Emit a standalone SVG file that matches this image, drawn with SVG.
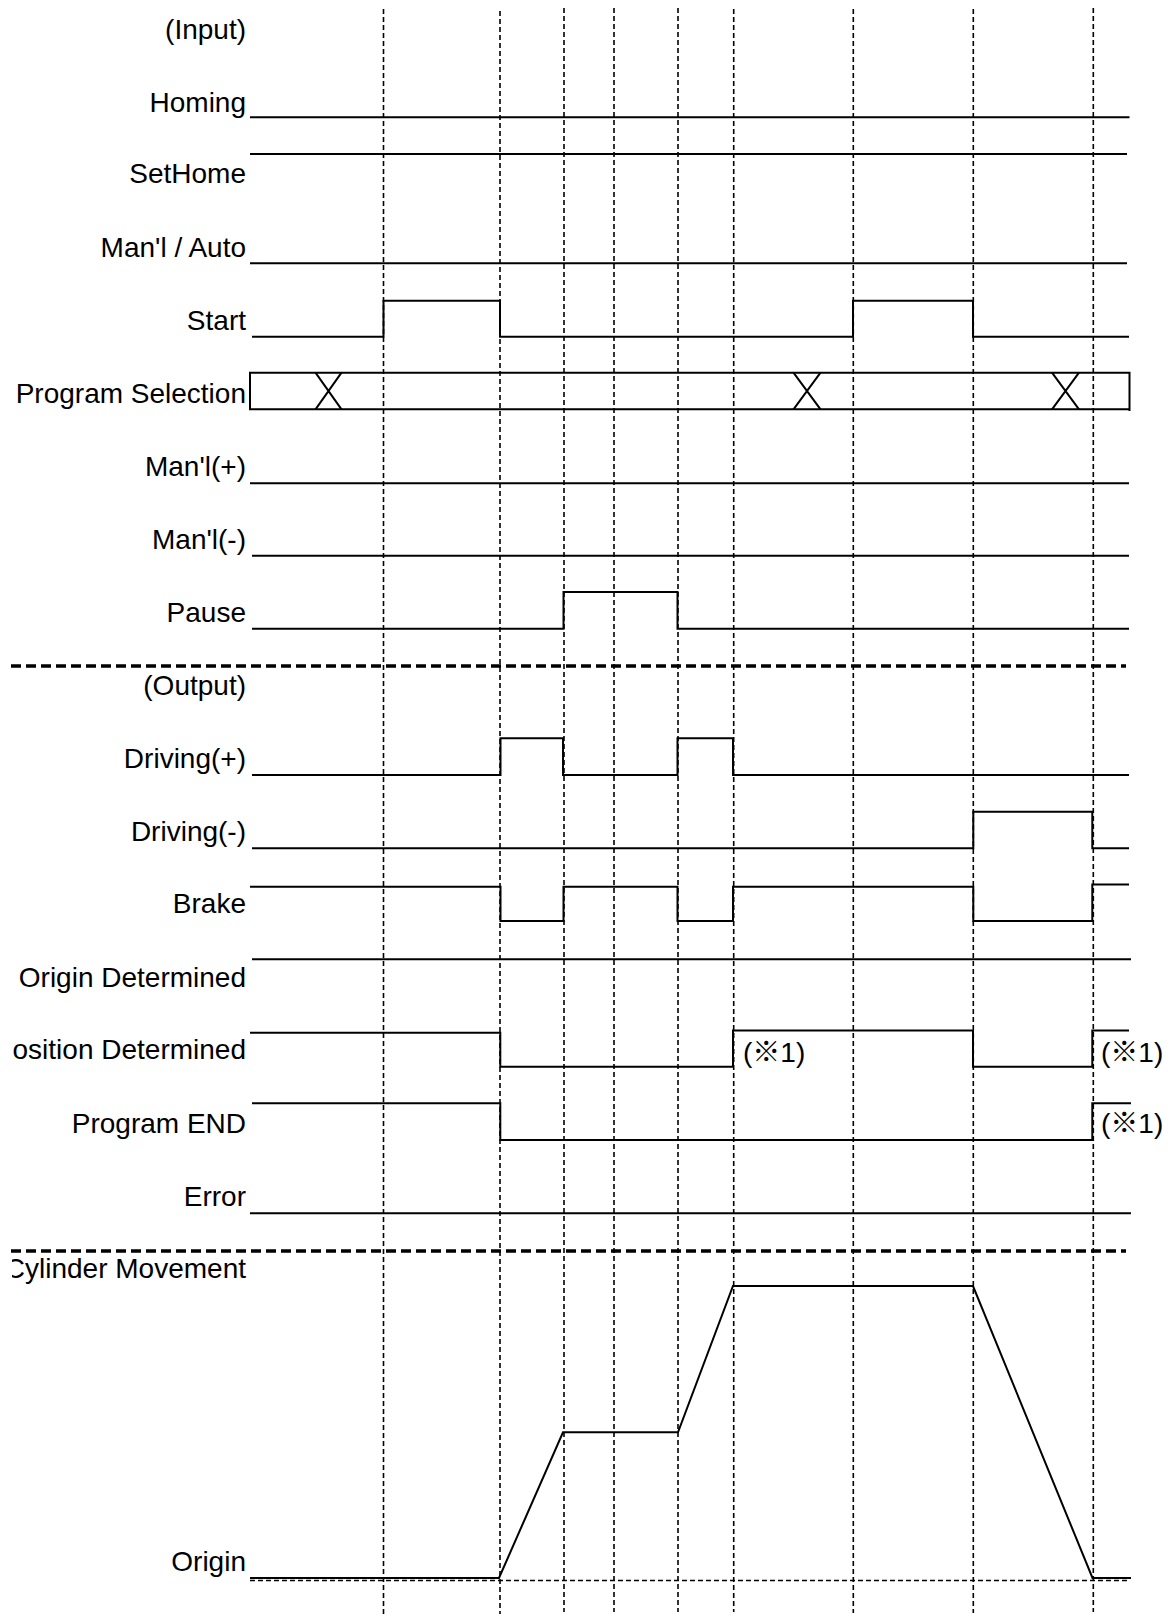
<svg xmlns="http://www.w3.org/2000/svg" width="1173" height="1616" viewBox="0 0 1173 1616">
<style>
.lbl{font-family:"Liberation Sans","Noto Sans CJK JP",sans-serif;font-size:28px;fill:#000;text-anchor:end}
.note{font-family:"Liberation Sans","Noto Sans CJK JP",sans-serif;font-size:28px;fill:#000}
.sig{fill:none;stroke:#000;stroke-width:2;stroke-linejoin:miter}
.tm{stroke:#000;stroke-width:1.6;stroke-dasharray:5 3}
.sep{stroke:#000;stroke-width:3.5;stroke-dasharray:10 5}
.odash{stroke:#000;stroke-width:1.6;stroke-dasharray:5 3}
</style>
<defs>
<clipPath id="lblclip"><rect x="12" y="0" width="240" height="1616"/></clipPath>
</defs>
<rect width="1173" height="1616" fill="#fff"/>

<g id="connectors">
<line class="tm" x1="383.5" y1="9" x2="383.5" y2="1614"/>
<line class="tm" x1="500" y1="11" x2="500" y2="1614"/>
<line class="tm" x1="564" y1="8" x2="564" y2="1612"/>
<line class="tm" x1="614" y1="8" x2="614" y2="1612"/>
<line class="tm" x1="678" y1="8" x2="678" y2="1612"/>
<line class="tm" x1="733.7" y1="9" x2="733.7" y2="1612"/>
<line class="tm" x1="853.3" y1="9" x2="853.3" y2="1613"/>
<line class="tm" x1="973.3" y1="9" x2="973.3" y2="1613"/>
<line class="tm" x1="1093.3" y1="8" x2="1093.3" y2="1612"/>
<line class="sep" x1="11" y1="666" x2="1126" y2="666"/>
<line class="sep" x1="11" y1="1251" x2="1126" y2="1251"/>
<line class="odash" x1="250" y1="1580.5" x2="1129" y2="1580.5"/>
</g>

<g id="input-header"><text class="lbl" x="246" y="38.5">(Input)</text></g>

<g id="homing">
<text class="lbl" x="246" y="111.7">Homing</text>
<path class="sig" d="M250,117.3 H1129.5"/>
</g>

<g id="sethome">
<text class="lbl" x="246" y="183.3">SetHome</text>
<path class="sig" d="M250,154 H1127"/>
</g>

<g id="manl-auto">
<text class="lbl" x="246" y="256.7">Man'l / Auto</text>
<path class="sig" d="M250,263.3 H1127"/>
</g>

<g id="start">
<text class="lbl" x="246" y="330">Start</text>
<path class="sig" d="M252,336.7 H383.5 V300.7 H500 V336.7 H853 V300.7 H973 V336.7 H1129"/>
</g>

<g id="program-selection">
<text class="lbl" x="246" y="402.7">Program Selection</text>
<path class="sig" d="M250,372.7 H1129.5 V411 M250,371.7 V409.3 H1129.5"/>
<path class="sig" d="M315.5,372.7 L341.5,409.3 M341.5,372.7 L315.5,409.3"/>
<path class="sig" d="M793.5,372.7 L820.5,409.3 M820.5,372.7 L793.5,409.3"/>
<path class="sig" d="M1052,372.7 L1079,409.3 M1079,372.7 L1052,409.3"/>
</g>

<g id="manl-plus">
<text class="lbl" x="246" y="476">Man'l(+)</text>
<path class="sig" d="M250,483.3 H1129"/>
</g>

<g id="manl-minus">
<text class="lbl" x="246" y="549.3">Man'l(-)</text>
<path class="sig" d="M252,555.7 H1129"/>
</g>

<g id="pause">
<text class="lbl" x="246" y="621.7">Pause</text>
<path class="sig" d="M252,628.7 H563.5 V592 H677.5 V628.7 H1129"/>
</g>

<g id="output-header"><text class="lbl" x="246" y="695">(Output)</text></g>

<g id="driving-plus">
<text class="lbl" x="246" y="767.7">Driving(+)</text>
<path class="sig" d="M252,775 H500.5 V738.3 H563 V775 H677.5 V738.3 H733 V775 H1129"/>
</g>

<g id="driving-minus">
<text class="lbl" x="246" y="841">Driving(-)</text>
<path class="sig" d="M252,848.3 H973.3 V811.7 H1092.3 V848.3 H1129"/>
</g>

<g id="brake">
<text class="lbl" x="246" y="913.3">Brake</text>
<path class="sig" d="M250,886.7 H500.5 V921 H563.5 V886.7 H677.5 V921 H733 V886.7 H973.3 V921 H1092.3 V884.5 H1129"/>
</g>

<g id="origin-determined">
<text class="lbl" x="246" y="986.7">Origin Determined</text>
<path class="sig" d="M252,959.3 H1131"/>
</g>

<g id="position-determined">
<text class="lbl" x="246" y="1059.3" clip-path="url(#lblclip)">Position Determined</text>
<path class="sig" d="M250,1032.7 H500.3 V1066.7 H733 V1030.5 H973 V1066.7 H1092.3 V1030.5 H1129"/>
<text class="note" x="743" y="1061.7">(※1)</text>
<text class="note" x="1101" y="1061.7">(※1)</text>
</g>

<g id="program-end">
<text class="lbl" x="246" y="1132.7">Program END</text>
<path class="sig" d="M252,1103.3 H500.3 V1140 H1092.3 V1103.3 H1131"/>
<text class="note" x="1101" y="1133.3">(※1)</text>
</g>

<g id="error">
<text class="lbl" x="246" y="1206">Error</text>
<path class="sig" d="M250,1213.3 H1131"/>
</g>

<g id="cylinder-movement">
<text class="lbl" x="246" y="1278.3" clip-path="url(#lblclip)">Cylinder Movement</text>
<text class="lbl" x="246" y="1571">Origin</text>
<path class="sig" d="M250,1578 H499 L563,1432.3 H678 L733,1286 H973 L1092.5,1578 H1131"/>
</g>
</svg>
